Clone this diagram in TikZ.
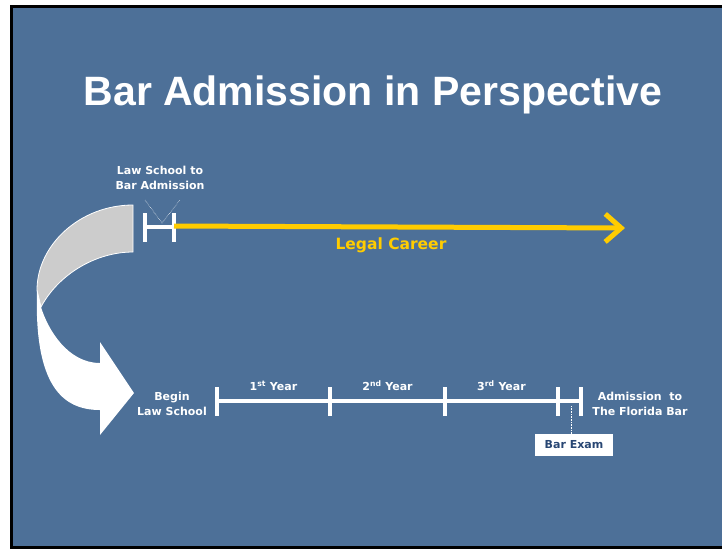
\documentclass[tikz,border=0pt]{standalone}
\usepackage{fontspec}
\setmainfont{Liberation Sans}
\newfontfamily\labelfont{DejaVu Sans}
\usetikzlibrary{arrows.meta}
\definecolor{slideblue}{RGB}{77,112,152}
\definecolor{careeryellow}{RGB}{255,204,0}
\definecolor{examblue}{RGB}{40,70,115}
\definecolor{backgray}{RGB}{204,204,204}

\begin{document}
\begin{tikzpicture}[x=1pt,y=-1pt,
    title/.style={text=white,inner sep=0pt,font=\bfseries\fontsize{41}{41}\selectfont},
    lbl/.style={text=white,inner sep=0pt,align=center,font=\labelfont\bfseries\fontsize{11}{15}\selectfont},
    tick/.style={draw=white,line width=3.5pt},
    bar/.style={draw=white,line width=4pt}]
    \useasboundingbox (0,0) rectangle (722,550);
    \fill[white] (0,0) rectangle (722,550);
    \draw[line width=2.5pt,fill=slideblue] (11.5,6.5) rectangle (730,547.5);

    \node[title,anchor=base] (T) at (373,105) {Bar Admission in Perspective};

    % upper line
    \node[lbl] (S) at (160,178) {Law School to\\Bar Admission};
    \coordinate (A) at (145,227);
    \coordinate (B) at (174,227);
    \coordinate (E) at (625,228);
    \coordinate (V) at (162,223);
    \draw[bar] (A) -- (B);
    \draw[tick] ([yshift=-15]A) -- ([yshift=14]A);
    \draw[tick] ([yshift=-15]B) -- ([yshift=14]B);
    \draw[white,densely dotted,line width=0.5pt] (145,200) -- (V) -- (180,200);
    \draw[careeryellow,line width=5pt,-{Straight Barb[length=16pt,width=28pt]}] ([yshift=1]B) -- (E);
    \node[lbl,text=careeryellow,font=\labelfont\bfseries\fontsize{15.5}{15.5}\selectfont] (C) at (391,245) {Legal Career};

    % curved arrow
    \draw[white,line width=0.8pt,fill=backgray] (133,205) .. controls (80,205) and (37,245) .. (37,290)
        -- (41,307) .. controls (58,275) and (95,252) .. (133,252) -- cycle;
    \fill[white] (37,290) .. controls (34,385) and (62,410) .. (100,410) -- (100,435) -- (134,393)
        -- (100,342) -- (100,363) .. controls (68,363) and (48,330) .. (41,307) -- cycle;

    % law school line
    \coordinate (t0) at (217,401);
    \coordinate (t1) at (330,401);
    \coordinate (t2) at (445,401);
    \coordinate (t3) at (558,401);
    \coordinate (t4) at (581,401);
    \draw[bar] (t0) -- (t4);
    \foreach \t in {t0,t1,t2,t3,t4}
        \draw[tick] ([yshift=-15]\t) -- ([yshift=14]\t);
    \node[lbl,anchor=base] (Y1) at (273.5,390) {1\textsuperscript{st} Year};
    \node[lbl,anchor=base] (Y2) at (387.5,390) {2\textsuperscript{nd} Year};
    \node[lbl,anchor=base] (Y3) at (501.5,390) {3\textsuperscript{rd} Year};
    \node[lbl] (L) at (172,404) {Begin\\Law School};
    \node[lbl] (F) at (640,404) {Admission~ to\\The Florida Bar};
    \node[fill=white,minimum width=78pt,minimum height=22pt,inner sep=0pt,text=examblue,
        font=\labelfont\bfseries\fontsize{11}{11}\selectfont] (X) at (574,445) {Bar Exam};
    \coordinate (be) at (571,406);
    \draw[white,densely dotted,line width=0.6pt] (be) -- (be |- X.north);
\end{tikzpicture}
\end{document}
